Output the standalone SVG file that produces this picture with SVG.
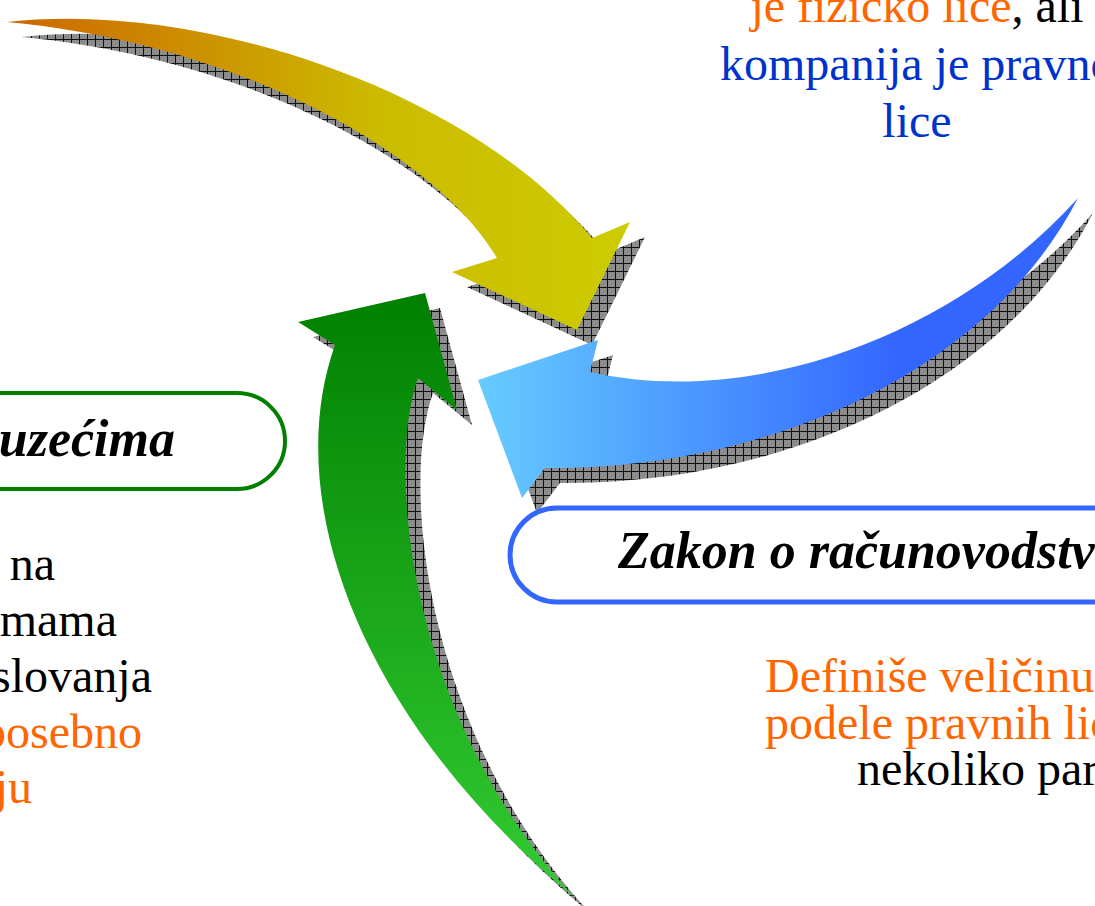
<svg xmlns="http://www.w3.org/2000/svg" width="1095" height="906" viewBox="0 0 1095 906">
<style>
.body{font-family:"Liberation Serif","Times New Roman",serif;font-size:48px}
.head{font-family:"Liberation Serif","Times New Roman",serif;font-size:52px;font-weight:bold;font-style:italic;fill:#000}
.or{fill:#FF6600}.bl{fill:#0033CC}.bk{fill:#000}
.shadow{fill:url(#hatch)}
</style>
<defs>
<pattern id="hatch" width="8" height="8" patternUnits="userSpaceOnUse">
<rect width="8" height="8" fill="#8c8c8c"/>
<path d="M0 0.5H8M0.5 0V8" stroke="#111" stroke-width="1"/>
</pattern>
<linearGradient id="gY" x1="0" y1="0" x2="1" y2="0">
<stop offset="0" stop-color="#CC6600"/><stop offset="0.6" stop-color="#CCBB00"/><stop offset="1" stop-color="#CCCC00"/>
</linearGradient>
<linearGradient id="gB" x1="0" y1="0" x2="1" y2="0">
<stop offset="0" stop-color="#66CCFF"/><stop offset="0.7" stop-color="#3366FF"/><stop offset="1" stop-color="#3366FF"/>
</linearGradient>
<linearGradient id="gG" x1="0" y1="0" x2="0" y2="1">
<stop offset="0" stop-color="#008000"/><stop offset="1" stop-color="#33CC33"/>
</linearGradient>
<path id="pY" d="M7 22C200 0 470 90 592 238L630 222L577 330L452 272L497 258C440 160 250 45 7 22Z"/>
<path id="pB" d="M1078 198C960 330 760 410 590 372L598 340L478 380L522 498L545 468C770 470 990 370 1078 198Z"/>
<path id="pG" d="M575 898C360 720 280 500 335 345L298 322L425 293L457 410L418 378C385 470 410 720 575 898Z"/>
</defs>
<rect width="1095" height="906" fill="#fff"/>
<g id="connectors">
<use href="#pY" class="shadow" x="15" y="15"/>
<use href="#pB" class="shadow" x="15" y="15"/>
<use href="#pG" class="shadow" x="15" y="15"/>
<use href="#pY" fill="url(#gY)"/>
<use href="#pG" fill="url(#gG)"/>
<use href="#pB" fill="url(#gB)"/>
</g>
<g id="node-top-right">
<text class="body" x="917" y="22" text-anchor="middle"><tspan class="or">je fizicko lice</tspan><tspan class="bk">, ali</tspan></text>
<text class="body bl" x="720" y="80">kompanija je pravno</text>
<text class="body bl" x="917" y="137" text-anchor="middle">lice</text>
</g>
<g id="node-left-box">
<rect x="-100" y="393" width="385" height="96" rx="48" fill="#fff" stroke="#008000" stroke-width="4"/>
<text class="head" x="175" y="456" text-anchor="end">uzećima</text>
</g>
<g id="node-left-text">
<text class="body bk" x="55" y="580" text-anchor="end">na</text>
<text class="body bk" x="117" y="636" text-anchor="end">rmama</text>
<text class="body bk" x="152" y="692" text-anchor="end">slovanja</text>
<text class="body or" x="142" y="748" text-anchor="end">posebno</text>
<text class="body or" x="32" y="803" text-anchor="end">ju</text>
</g>
<g id="node-right-box">
<rect x="510" y="508" width="700" height="94" rx="47" fill="#fff" stroke="#3366FF" stroke-width="5"/>
<text class="head" x="618" y="568">Zakon o računovodstvu</text>
</g>
<g id="node-right-text">
<text class="body or" x="765" y="692">Definiše veličinu</text>
<text class="body or" x="765" y="739">podele pravnih lica</text>
<text class="body bk" x="857" y="785">nekoliko para</text>
</g>
</svg>
